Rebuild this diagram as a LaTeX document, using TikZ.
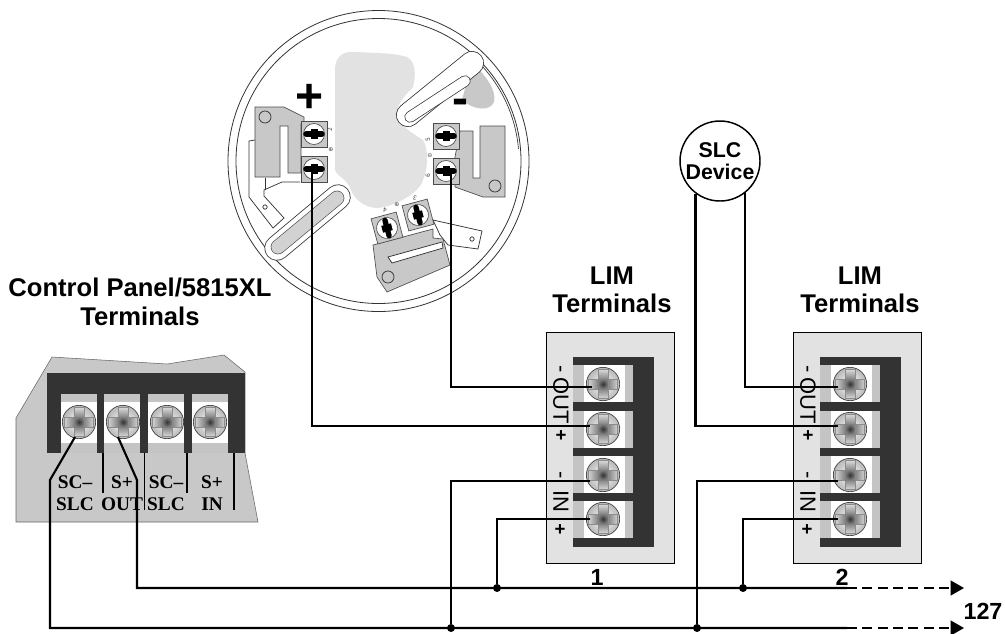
\documentclass[tikz,border=0pt]{standalone}
\usepackage{fontspec}
\setmainfont{Liberation Sans}
\newfontfamily\lsf{Liberation Serif}
\newfontfamily\djv{DejaVu Sans}
\usetikzlibrary{arrows.meta,calc}
\definecolor{darkblk}{HTML}{333333}
\definecolor{midg}{HTML}{C8C8C8}
\definecolor{lightg}{HTML}{E2E2E2}
\definecolor{padg}{HTML}{C4C4C4}
\tikzset{
 wire/.style={line width=1.6pt,black,line join=miter},
 dot/.style={circle,fill=black,inner sep=0pt,minimum size=6pt},
 thinl/.style={line width=0.55pt,black!80},
 plate/.style={fill=midg,draw=black!70,line width=0.5pt},
 lab/.style={font=\fontsize{19.2}{22}\selectfont\bfseries,inner sep=0pt},
 num/.style={font=\fontsize{17.5}{20}\selectfont\bfseries,inner sep=0pt},
 tlab/.style={font=\lsf\fontsize{14.5}{16}\selectfont\bfseries,inner sep=0pt},
 side/.style={font=\fontsize{16.5}{18}\selectfont,inner sep=0pt,rotate=-90},
 sideb/.style={font=\fontsize{14}{15}\selectfont\bfseries,inner sep=0pt},
 tiny/.style={font=\djv\fontsize{4.5}{5}\selectfont,inner sep=0pt,text=black!70},
 screwhead/.style={circle,draw=black!75,line width=0.5pt,minimum size=25pt,inner sep=0pt,inner color=white,outer color=black!28},
}
% big screw: name x y
\newcommand{\bigscrew}[3]{%
 \node[screwhead] (#1) at (#2,#3) {};
 \begin{scope}[shift={(#2,#3)}]
  \shade[left color=black!18,right color=black!18,middle color=black!65,draw=black!45,line width=0.3pt] (-14.5,-5) rectangle (14.5,5);
  \shade[top color=black!15,bottom color=black!15,middle color=black!65,draw=black!45,line width=0.3pt] (-5,-14.5) rectangle (5,14.5);
  \shade[inner color=black!80,outer color=black!50] (-5,-5) rectangle (5,5);
 \end{scope}}
% detector screw: name x y angle
\newcommand{\detscrew}[4]{%
 \begin{scope}[shift={(#2,#3)},rotate=#4]
  \node[draw=black!70,fill=midg,line width=0.5pt,minimum size=19.5pt,inner sep=0pt,rotate=#4] (#1) at (0,0) {};
  \draw[black!70,fill=white,line width=0.5pt] (0,0) circle (10.5);
  \draw[black,line width=4pt,line cap=round] (-8,0) -- (8,0);
  \fill[black] (-3.5,-5) rectangle (3.5,5);
 \end{scope}}
% LIM block: prefix
\newcommand{\limblock}[1]{%
 \node[draw=black,fill=lightg,line width=1pt,minimum width=96pt,minimum height=173pt,inner sep=0pt,anchor=north west] (#1box) at (546,332) {};
 \fill[darkblk] (573,357) rectangle (654,547);
 \foreach \a/\b in {365/402,411/448,456/493,501/538}{
  \fill[padg] (573,\a) rectangle (633,\b);
  \fill[white] (584,\a) rectangle (625,\b);
 }
 \bigscrew{#1a}{603}{384}
 \bigscrew{#1b}{603}{429}
 \bigscrew{#1c}{603}{475}
 \bigscrew{#1d}{603}{519}
 \node[side] (#1m) at (558,369) {-};
 \node[side] (#1o) at (561,401) {OUT};
 \node[sideb] (#1p) at (561,436) {+};
 \node[side] (#1n) at (558,475) {-};
 \node[side] (#1i) at (561,501) {IN};
 \node[sideb] (#1q) at (560,530) {+};
}
\begin{document}
\begin{tikzpicture}[x=0.75pt,y=-0.75pt]
\useasboundingbox (0,0) rectangle (1005,633);
\fill[white] (0,0) rectangle (1005,633);

% ---------- detector base
\draw[black!80,line width=0.6pt,fill=white] (378.5,161) circle (150.5);
\draw[black!80,line width=0.6pt] (378.5,161) circle (142.5);
\draw[black!80,line width=0.5pt] (378.5,161) ++(-47:140.5) arc[start angle=-47,end angle=-5,radius=140.5];
% lobe behind the upper slot
\fill[midg] (472,62) .. controls (485,75) and (497,90) .. (494,102) .. controls (490,112) and (473,110) .. (462,100) -- cycle;
% central area
\fill[lightg] (335,70) .. controls (335,55) and (345,51) .. (355,52) .. controls (375,53) and (395,53) .. (407,57)
 .. controls (416,62) and (416,75) .. (413,87) .. controls (403,97) and (397,105) .. (397,113)
 .. controls (398,125) and (412,133) .. (423,140) .. controls (429,150) and (428,168) .. (423,180)
 .. controls (420,192) and (395,207) .. (377,208) .. controls (360,207) and (352,195) .. (350,187)
 .. controls (345,178) and (336,175) .. (335,170) -- cycle;
% slots
\draw[black!80,line width=18pt,line cap=round] (408,115) -- (472,63);
\draw[white,line width=16.8pt,line cap=round] (408,115) -- (472,63);
\draw[black!80,line width=8.5pt,line cap=round] (410,117) -- (465,81);
\draw[white,line width=7.4pt,line cap=round] (410,117) -- (465,81);
\draw[black!80,line width=19pt,line cap=round] (277,248) -- (338,197);
\draw[white,line width=17.8pt,line cap=round] (277,248) -- (338,197);
\draw[black!70,line width=11pt,line cap=round] (278,247) -- (337,198);
\draw[midg!60!lightg,line width=10pt,line cap=round] (278,247) -- (337,198);
% left traces
\draw[thinl] (255,140) -- (249,141) -- (249,197) -- (273,228) -- (284,218) -- (264,196) -- (264,190) -- (282,182) -- (300,182);
\draw[thinl] (265,178) -- (265,190);
\draw[thinl,fill=white] (265,207) circle (2.2);
% left plate
\draw[plate] (255,107) -- (284,107) -- (304,117) -- (304,124) -- (301,124) -- (301,173) -- (288,173) -- (288,126) -- (280,126) -- (280,177) -- (255,177) -- cycle;
\draw[thinl,fill=midg] (265,117) circle (6);
% right plate
\draw[plate] (460,131) -- (473,131) -- (473,178) -- (480,178) -- (480,126) -- (505,126) -- (505,197) -- (483,197) -- (455,187) -- (455,157) -- cycle;
\draw[thinl,fill=midg] (495,186) circle (6);
% lower tab and plate
\draw[thinl,fill=white] (433,220) -- (482,231) -- (478,249) -- (448,245) -- (440,235) -- cycle;
\draw[thinl,fill=white] (472,239) circle (2.2);
\draw[plate] (373,245) -- (433,229) -- (433,238) -- (443,239) -- (450,265) -- (387,292) -- (377,277) -- cycle;
\draw[thinl,fill=white] (388,257) -- (442,242) -- (443,248) -- (392,263) -- cycle;
\draw[thinl,fill=midg] (388,277) circle (6);
% detector terminals
\detscrew{dtl}{314}{134}{0}
\detscrew{dbl}{314}{169}{0}
\detscrew{dtr}{446}{136}{0}
\detscrew{dbr}{446}{171}{0}
\detscrew{dfour}{387}{228}{-75}
\detscrew{dthree}{418}{215}{-75}
\node[tiny,rotate=90] (mk2) at (330,130) {2};
\node[tiny] (mkp) at (331,150) {⊕};
\node[tiny,rotate=90] (mk5) at (428,140) {5};
\node[tiny] (mkm) at (430,156) {⊖};
\node[tiny,rotate=90] (mk6) at (428,176) {6};
\node[tiny] (mkb) at (397,205) {⊕};
\node[tiny,rotate=165] (mk4) at (385,210) {4};
\node[tiny,rotate=165] (mk3) at (415,198) {3};
\node[font=\fontsize{36}{40}\selectfont\bfseries,inner sep=0pt] (plus) at (310,98) {+};
\node[font=\fontsize{36}{40}\selectfont\bfseries,inner sep=0pt] (minus) at (460,107) {-};

% ---------- control panel
\draw[fill=midg,draw=black!60,line width=0.4pt] (52,357) -- (167,364) -- (224,355) -- (245,372) -- (245,453) -- (258,522) -- (16,522) -- (16,418) -- cycle;
\fill[darkblk] (47,373) rectangle (245,453);
\foreach \a in {61,104,148,192}{
 \fill[padg] (\a,394) rectangle ({\a+36},453);
 \fill[white] (\a,402) rectangle ({\a+36},443);
}
\bigscrew{pa}{79}{422}
\bigscrew{pb}{123}{422}
\bigscrew{pc}{167}{422}
\bigscrew{pd}{210}{422}
\foreach \n/\x/\y in {da/103/493,db/144.5/510,dc/187/493,dd/234/510}{
 \coordinate (\n t) at (\x,453);
 \coordinate (\n b) at (\x,\y);
 \draw[line width=1.1pt,black] (\n t) -- (\n b);
}
\node[tlab] (t1) at (75,482) {SC–};
\node[tlab] (t2) at (75,504) {SLC};
\node[tlab] (t3) at (122,482) {S+};
\node[tlab] (t4) at (122,504) {OUT};
\node[tlab] (t5) at (166,482) {SC–};
\node[tlab] (t6) at (166,504) {SLC};
\node[tlab] (t7) at (212,482) {S+};
\node[tlab] (t8) at (212,504) {IN};

% ---------- LIM blocks
\begin{scope}
\limblock{u}
\end{scope}
\begin{scope}[shift={(247,0)}]
\limblock{v}
\end{scope}

% ---------- SLC device
\node[draw=black,line width=1.1pt,circle,fill=white,minimum size=60pt,inner sep=0pt,align=center,font=\fontsize{16}{16.5}\selectfont\bfseries] (slc) at (720,161) {SLC\\Device};

% ---------- texts
\node[lab] (cp1) at (140,287) {Control Panel/5815XL};
\node[lab] (cp2) at (140,316) {Terminals};
\node[lab] (l1) at (612,276) {LIM};
\node[lab] (l2) at (612,303) {Terminals};
\node[lab] (l3) at (860,276) {LIM};
\node[lab] (l4) at (860,303) {Terminals};
\node[num] (n1) at (597,577) {1};
\node[num] (n2) at (842,577) {2};
\node[num] (n127) at (983,611) {127};

% ---------- wiring coordinates
\coordinate (wu1) at (592,386.7);
\coordinate (wu2) at (590,426);
\coordinate (wu3) at (590,480.7);
\coordinate (wu4) at (590,519);
\coordinate (wv1) at (838,386.7);
\coordinate (wv2) at (838,426);
\coordinate (wv3) at (838,480.7);
\coordinate (wv4) at (838,519);
\coordinate (sp) at (118,437);
\coordinate (sm) at (75,437);
\coordinate (spk) at (137,480);
\coordinate (smk) at (50,480);
\coordinate (tp) at (137,588);
\coordinate (bt) at (50,628);
\coordinate (tm) at (847,588);
\coordinate (bm) at (847,628);
\coordinate (te) at (964,588);
\coordinate (be) at (964,628);
\node[dot] (j1) at (451,628) {};
\node[dot] (j2) at (497,588) {};
\node[dot] (j3) at (697,628) {};
\node[dot] (j4) at (743,588) {};
\coordinate (dl) at (312,170);
\coordinate (dr) at (450.7,172);

% wires
\draw[wire] (dl) |- (wu2);
\draw[wire] (dr) |- (wu1);
\draw[wire] (wu3) -| (j1);
\draw[wire] (wu4) -| (j2);
\draw[wire] (wv3) -| (j3);
\draw[wire] (wv4) -| (j4);
\draw[wire] (slc.233) |- (wv2);
\draw[wire] (slc.-52) |- (wv1);
\draw[wire] (sp) -- (spk) -- (tp) -- (tm);
\draw[wire] (sm) -- (smk) -- (bt) -- (bm);
\draw[wire,dash pattern=on 7.5pt off 4pt,-{Triangle[length=10pt,width=11pt]}] (tm) -- (te);
\draw[wire,dash pattern=on 7.5pt off 4pt,-{Triangle[length=10pt,width=11pt]}] (bm) -- (be);
\end{tikzpicture}
\end{document}
